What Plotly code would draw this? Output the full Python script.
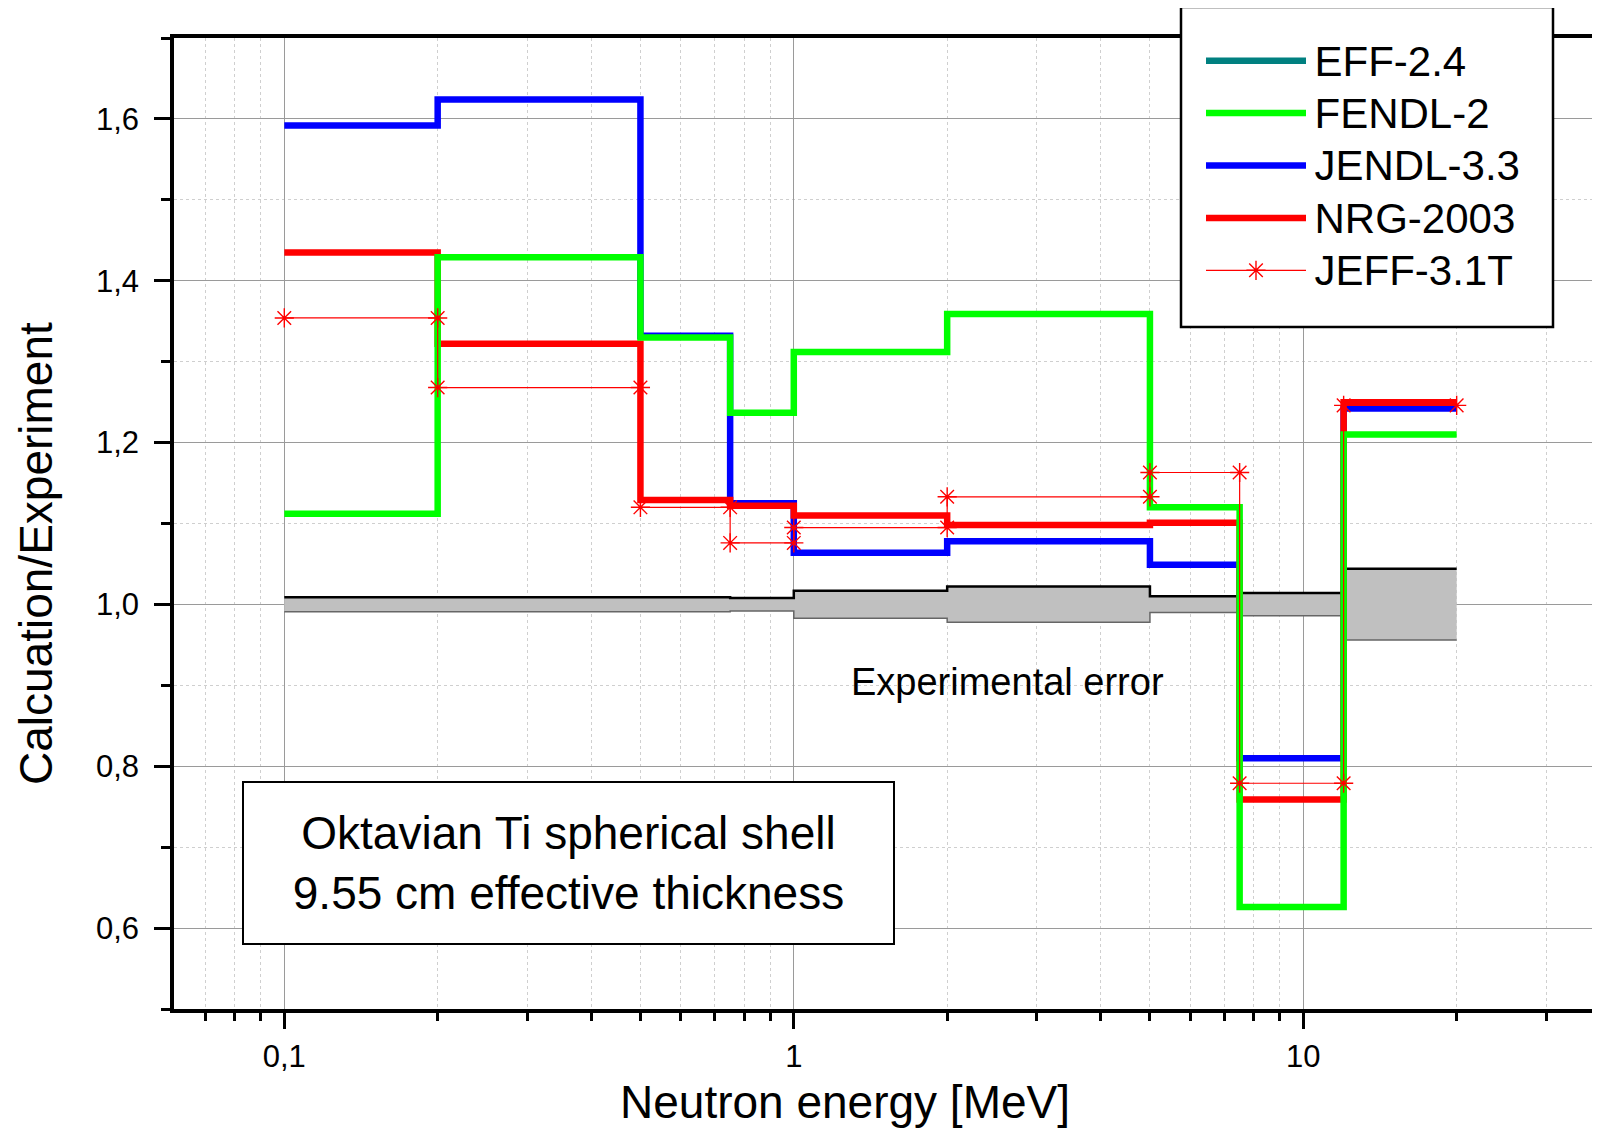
import numpy as np
import plotly.graph_objects as go

# ---------------- data ----------------
edges = [0.1, 0.2, 0.5, 0.75, 1, 2, 5, 7.5, 12, 20]
jendl = [1.592, 1.624, 1.332, 1.125, 1.064, 1.078, 1.049, 0.810, 1.242]
fendl = [1.112, 1.429, 1.330, 1.237, 1.312, 1.359, 1.120, 0.626, 1.210]
nrg = [1.435, 1.322, 1.129, 1.122, 1.110, 1.098, 1.101, 0.759, 1.250]
jeff = [1.354, 1.268, 1.120, 1.076, 1.095, 1.133, 1.163, 0.779, 1.246]
exp_err = [0.009, 0.009, 0.009, 0.008, 0.017, 0.022, 0.010, 0.014, 0.044]

y_ticks = [0.6, 0.8, 1.0, 1.2, 1.4, 1.6]
x_ticks = [0.1, 1, 10]
x_tick_text = ["0,1", "1", "10"]
x_minor = [0.07, 0.08, 0.09, 0.2, 0.3, 0.4, 0.5, 0.6, 0.7, 0.8, 0.9,
           2, 3, 4, 5, 6, 7, 8, 9, 20, 30]

FONT = "Arial, Liberation Sans, sans-serif"
LW = 6.5

def step(vals):
    return list(vals) + [vals[-1]]

def lname(s):
    return '<span style="font-size:42px">\u200a' + s + '</span>'

fig = go.Figure()

# experimental error band
lower = [1 - e for e in exp_err]
upper = [1 + e for e in exp_err]
fig.add_trace(go.Scatter(x=edges, y=step(lower), mode="lines", line_shape="hv",
                         line=dict(color="#666666", width=1.5), showlegend=False,
                         hoverinfo="skip"))
fig.add_trace(go.Scatter(x=edges, y=step(upper), mode="lines", line_shape="hv",
                         line=dict(color="black", width=2.5), fill="tonexty",
                         fillcolor="#c0c0c0", showlegend=False, hoverinfo="skip"))

# EFF-2.4 (legend only)
fig.add_trace(go.Scatter(x=[None], y=[None], mode="lines", name=lname("EFF-2.4"),
                         line=dict(color="#008080", width=LW), legendrank=1))

fig.add_trace(go.Scatter(x=edges, y=step(jendl), mode="lines", line_shape="hv",
                         name=lname("JENDL-3.3"), line=dict(color="#0000ff", width=LW),
                         legendrank=3))
fig.add_trace(go.Scatter(x=edges, y=step(nrg), mode="lines", line_shape="hv",
                         name=lname("NRG-2003"), line=dict(color="#ff0000", width=LW),
                         legendrank=4))
fig.add_trace(go.Scatter(x=edges, y=step(fendl), mode="lines", line_shape="hv",
                         name=lname("FENDL-2"), line=dict(color="#00ff00", width=LW),
                         legendrank=2))

# JEFF-3.1T: points at both ends of each group
jx, jy = [], []
for i, v in enumerate(jeff):
    jx += [edges[i], edges[i + 1]]
    jy += [v, v]
fig.add_trace(go.Scatter(x=jx, y=jy, mode="lines+markers", name=lname("JEFF-3.1T"),
                         line=dict(color="#ff0000", width=1.2),
                         marker=dict(symbol="asterisk-open", size=16,
                                     line=dict(color="#ff0000", width=1.4)),
                         legendrank=5))

# page body adds an 8px offset; figure sized to fit the window
OFF = 8
FW, FH = 1600 - OFF, 1130 - OFF
L, R, T, B = 166, 0, 30, 121
W_PLOT = FW - L - R
H_PLOT = FH - T - B
DEC = 509.5  # px per decade
x_left_log = -1 - (284.3 - (L + OFF)) / DEC
x_right_log = x_left_log + W_PLOT / DEC

def px(sx):
    return (sx - OFF - L) / W_PLOT

def py(sy):
    return (FH - B - (sy - OFF)) / H_PLOT

fig.update_layout(
    width=FW, height=FH,
    margin=dict(l=L, r=R, t=T, b=B, pad=0, autoexpand=False),
    paper_bgcolor="white", plot_bgcolor="white",
    separators=",.",
    font=dict(family=FONT, color="black"),
    showlegend=True,
    legend=dict(x=px(1201), y=py(29.5), xanchor="left", yanchor="top",
                traceorder="normal",
                bgcolor="rgba(0,0,0,0)", borderwidth=0,
                font=dict(size=38, family=FONT, color="black"),
                itemwidth=100, tracegroupgap=0),
)

fig.update_xaxes(
    type="log", range=[x_left_log, x_right_log],
    showline=True, linecolor="black", linewidth=3.5, mirror=True,
    tickvals=x_ticks, ticktext=x_tick_text,
    ticks="outside", ticklen=16, tickwidth=3, tickcolor="black",
    tickfont=dict(size=31, family=FONT, color="black"),
    ticklabelstandoff=1,
    showgrid=True, gridcolor="#9a9a9a", gridwidth=1.3,
    minor=dict(tickvals=x_minor, ticks="outside", ticklen=8, tickwidth=3,
               tickcolor="black", showgrid=True, gridcolor="#cfcfcf",
               griddash="dot", gridwidth=1),
    zeroline=False,
)
fig.update_yaxes(
    range=[0.5, 1.7],
    showline=True, linecolor="black", linewidth=3.5, mirror=False,
    tickvals=y_ticks, tickformat=".1f",
    ticks="outside", ticklen=16, tickwidth=3, tickcolor="black",
    tickfont=dict(size=31, family=FONT, color="black"),
    ticklabelstandoff=9,
    showgrid=True, gridcolor="#9a9a9a", gridwidth=1.3,
    minor=dict(dtick=0.1, tick0=0.5, ticks="outside", ticklen=9, tickwidth=3,
               tickcolor="black", showgrid=True, gridcolor="#cfcfcf",
               griddash="dot", gridwidth=1),
    zeroline=False,
)

# legend box
fig.add_shape(type="rect", xref="paper", yref="paper",
              x0=px(1181), x1=px(1553), y0=py(327), y1=py(7),
              line=dict(color="black", width=2.5), fillcolor="white",
              layer="above")

# annotations
fig.add_annotation(xref="paper", yref="paper", x=px(845), y=py(1102),
                   text="Neutron energy [MeV]", showarrow=False,
                   xanchor="center", yanchor="middle",
                   font=dict(size=46, family=FONT, color="black"))
fig.add_annotation(xref="paper", yref="paper", x=px(36), y=py(554),
                   text="Calcuation/Experiment", showarrow=False, textangle=-90,
                   xanchor="center", yanchor="middle",
                   font=dict(size=46, family=FONT, color="black"))
fig.add_annotation(xref="paper", yref="paper", x=px(1007), y=py(682),
                   text="Experimental error", showarrow=False,
                   xanchor="center", yanchor="middle",
                   font=dict(size=38, family=FONT, color="black"))
fig.add_annotation(xref="paper", yref="paper", x=px(568.5), y=py(863),
                   text="Oktavian Ti spherical shell<br>9.55 cm effective thickness",
                   showarrow=False, xanchor="center", yanchor="middle",
                   width=649, height=160, borderpad=0, borderwidth=2,
                   bordercolor="black", bgcolor="white", align="center",
                   font=dict(size=46, family=FONT, color="black"))

fig.write_html("out.html")
